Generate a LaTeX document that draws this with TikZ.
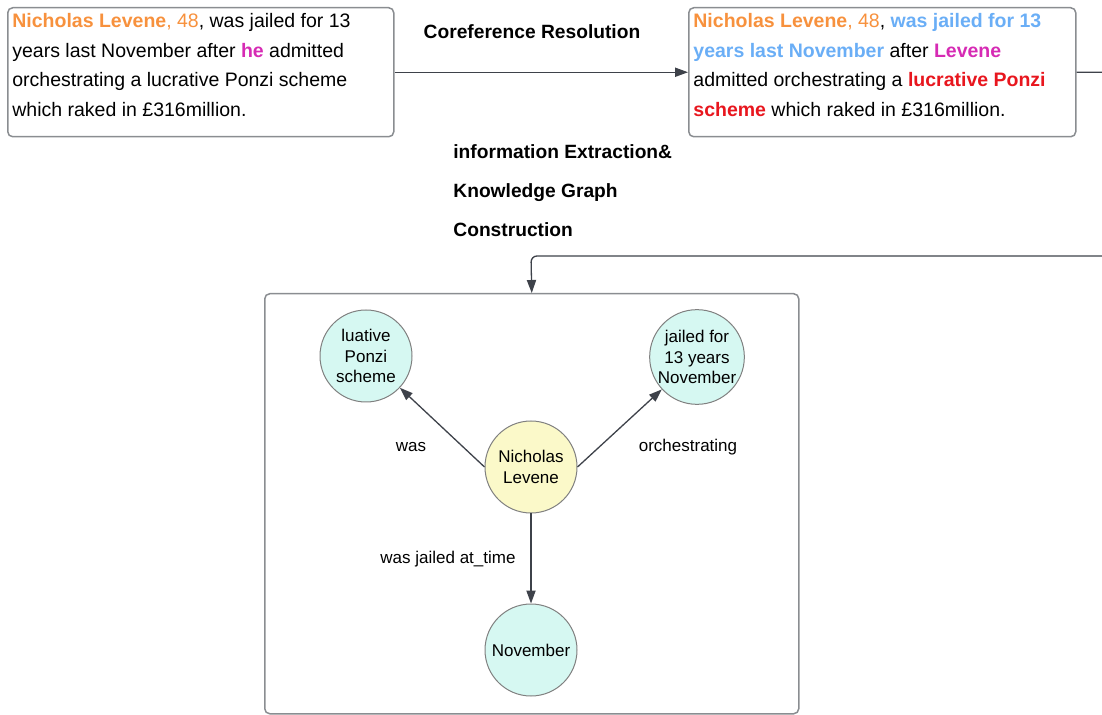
\documentclass[tikz,border=0pt]{standalone}
\usepackage{fontspec}
\setmainfont{Liberation Sans}
\usepackage{tikz}
\usetikzlibrary{arrows.meta, positioning, calc}
\definecolor{levorange}   {RGB}{247, 145,  61}
\definecolor{jailblue}    {RGB}{106, 174, 246}
\definecolor{pronmag}     {RGB}{214,  43, 180}
\definecolor{schemered}   {RGB}{232,  22,  30}
\definecolor{boxgray}     {RGB}{138, 141, 145}
\definecolor{flowgray}    {RGB}{ 62,  66,  74}
\definecolor{entcyan}     {RGB}{214, 248, 242}
\definecolor{entyellow}   {RGB}{251, 249, 201}
\newcommand{\boxfont}{\fontsize{9.75}{14.8}\selectfont}
\newcommand{\kgfont}{\fontsize{8.5}{10.2}\selectfont}

\begin{document}
\begin{tikzpicture}[x=0.5pt, y=-0.5pt,
	textbox/.style={draw=boxgray, line width=0.75pt, rounded corners=2.5pt, inner sep=0pt},
	boxtext/.style={font=\boxfont, align=left, inner sep=0pt, anchor=north west},
	steplabel/.style={font=\fontsize{9.6}{14.8}\selectfont\bfseries, inner sep=0pt},
	flow/.style={draw=flowgray, line width=0.65pt, -{Triangle[length=6.5pt, width=4.6pt]}},
	entity/.style={circle, draw=gray, line width=0.5pt, fill=entcyan, minimum size=46pt,
		inner sep=0pt, align=center, font=\kgfont},
	rel/.style={font=\kgfont, inner sep=0pt, anchor=base}
	]
	\useasboundingbox (0,0) rectangle (1102,715);
	% input sentence and resolved sentence
	\node[textbox, minimum width=193pt, minimum height=64.5pt, anchor=north west] (src) at (7,7) {};
	\node[boxtext] (srctext) at (12,13) {\textcolor{levorange}{\textbf{Nicholas Levene}, 48}, was jailed for 13\\
		years last November after \textcolor{pronmag}{\textbf{he}} admitted\\
		orchestrating a lucrative Ponzi scheme\\
		which raked in £316million.};
	\node[textbox, minimum width=193.5pt, minimum height=64.5pt, anchor=north west] (dst) at (688,7) {};
	\node[boxtext] (dsttext) at (693,13) {\textcolor{levorange}{\textbf{Nicholas Levene}, 48}, \textcolor{jailblue}{\textbf{was jailed for 13}}\\
		\textcolor{jailblue}{\textbf{years last November}} after \textcolor{pronmag}{\textbf{Levene}}\\
		admitted orchestrating a \textcolor{schemered}{\textbf{lucrative Ponzi}}\\
		\textcolor{schemered}{\textbf{scheme}} which raked in £316million.};
	\draw[flow] (src.east) -- (dst.west);
	\node[steplabel] (coref) at (532,32) {Coreference Resolution};
	% knowledge graph panel
	\node[textbox, minimum width=267pt, minimum height=210pt, anchor=north west] (graph) at (264,293) {};
	\node[steplabel, align=left, anchor=north west, font=\fontsize{9.6}{19.5}\selectfont\bfseries] (extract) at (453,144)
		{information Extraction\&\\ Knowledge Graph\\ Construction};
	\coordinate (turn) at (531,256);
	\draw[flow, rounded corners=3pt] (dst.east) -- ++(50,0) |- (turn) -- (graph.north);
	% entities and relations
	\node[entity, fill=entyellow] (hub) at (531,467) {Nicholas\\ Levene};
	\node[entity] (scheme) at (366,356) {luative\\ Ponzi\\ scheme};
	\node[entity] (jailed) at (697,357) {jailed for\\ 13 years\\ November};
	\node[entity, below=45pt of hub] (month) {November};
	\draw[flow] (hub.west) -- (scheme);
	\draw[flow] (hub.east) -- (jailed);
	\draw[flow] (hub.south) -- (month.north);
	\node[rel] (was) at (411,452) {was};
	\node[rel] (orch) at (688,452) {orchestrating};
	\node[rel] (attime) at (448,563) {was jailed at\_time};
\end{tikzpicture}
\end{document}
